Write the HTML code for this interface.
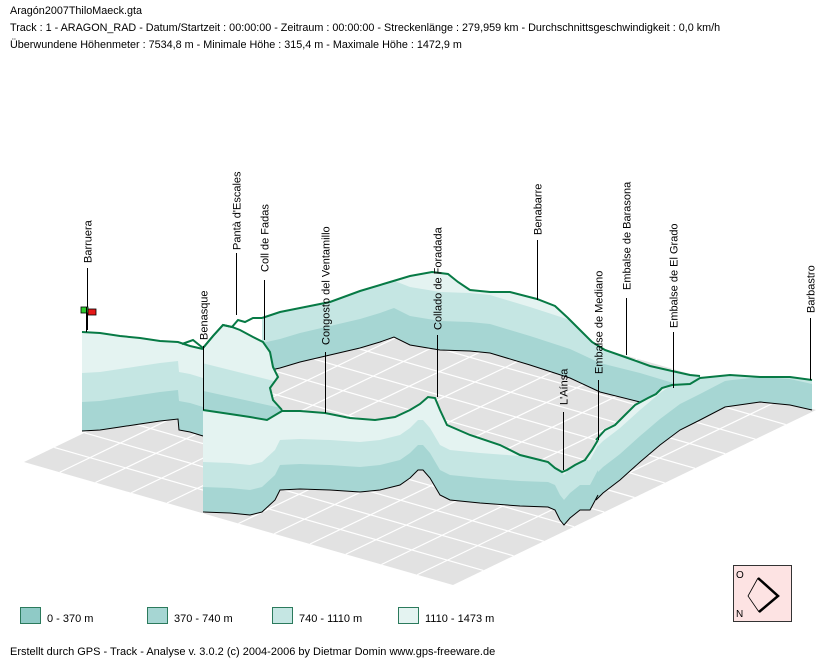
<!DOCTYPE html>
<html><head><meta charset="utf-8"><style>
body{margin:0;background:#fff;}
svg{display:block;font-family:"Liberation Sans",sans-serif;}
</style></head><body>
<svg id="s" width="832" height="664" viewBox="0 0 832 664" xmlns="http://www.w3.org/2000/svg">
<rect width="832" height="664" fill="#fff"/>
<g font-size="10.8" fill="#000">
<text x="10" y="14">Aragón2007ThiloMaeck.gta</text>
<text x="10" y="31">Track : 1 - ARAGON_RAD - Datum/Startzeit : 00:00:00 - Zeitraum : 00:00:00 - Streckenlänge : 279,959 km - Durchschnittsgeschwindigkeit : 0,0 km/h</text>
<text x="10" y="48">Überwundene Höhenmeter : 7534,8 m  -  Minimale Höhe : 315,4 m  -  Maximale Höhe : 1472,9 m</text>
</g>
<g id="floor"></g>
<g id="rib"></g>
<g id="lab" font-size="11"></g>
<g>
<rect x="81" y="307" width="7" height="6" fill="#2ecc2e" stroke="#000" stroke-width="0.8"/>
<rect x="88" y="309" width="8" height="6" fill="#e61919" stroke="#000" stroke-width="0.8"/>
<line x1="86.5" y1="307" x2="86.5" y2="332" stroke="#000"/>
</g>
<g font-size="11">
<rect x="20.5" y="607.5" width="20" height="16" fill="#8fcac6" stroke="#2b7a5c"/>
<text x="47" y="622">0 - 370 m</text>
<rect x="147.5" y="607.5" width="20" height="16" fill="#a6d6d3" stroke="#2b7a5c"/>
<text x="174" y="622">370 - 740 m</text>
<rect x="272.5" y="607.5" width="20" height="16" fill="#c5e6e3" stroke="#2b7a5c"/>
<text x="299" y="622">740 - 1110 m</text>
<rect x="398.5" y="607.5" width="20" height="16" fill="#e4f3f1" stroke="#2b7a5c"/>
<text x="425" y="622">1110 - 1473 m</text>
<text x="10" y="655">Erstellt durch  GPS - Track - Analyse   v. 3.0.2   (c) 2004-2006 by Dietmar Domin  www.gps-freeware.de</text>
</g>
<g>
<rect x="733.5" y="565.5" width="58" height="56" fill="#fde3e3" stroke="#333"/>
<text x="736" y="578" font-size="10">O</text>
<text x="736" y="617" font-size="10">N</text>
<polyline points="758,578 778,596 759,612" fill="none" stroke="#000" stroke-width="2.5"/>
<polyline points="758,578 748,596 759,612" fill="none" stroke="#000" stroke-width="0.8"/>
</g>
</svg>
<script>
var NS="http://www.w3.org/2000/svg";
function el(t,a,p){var e=document.createElementNS(NS,t);for(var k in a)e.setAttribute(k,a[k]);p.appendChild(e);return e;}
var F=document.getElementById('floor');
var L=[24,462],B=[453,585],R=[816,410],T=[387,287];
el('polygon',{points:[L,B,R,T].map(p=>p.join(',')).join(' '),fill:'#e2e2e2'},F);
var N=12;
for(var i=1;i<N;i++){var t=i/N;
 var a=[L[0]+(T[0]-L[0])*t,L[1]+(T[1]-L[1])*t],b=[B[0]+(R[0]-B[0])*t,B[1]+(R[1]-B[1])*t];
 el('line',{x1:a[0],y1:a[1],x2:b[0],y2:b[1],stroke:'#fff','stroke-width':1.2},F);
 a=[L[0]+(B[0]-L[0])*t,L[1]+(B[1]-L[1])*t];b=[T[0]+(R[0]-T[0])*t,T[1]+(R[1]-T[1])*t];
 el('line',{x1:a[0],y1:a[1],x2:b[0],y2:b[1],stroke:'#fff','stroke-width':1.2},F);}
var C=['#8fcac6','#a6d6d3','#c5e6e3','#e4f3f1'];
var G=document.getElementById('rib');
function interp(pts,x){for(var i=0;i<pts.length-1;i++){var a=pts[i],b=pts[i+1];if(x>=a[0]&&x<=b[0]){var t=(b[0]==a[0])?0:(x-a[0])/(b[0]-a[0]);return a[1]+(b[1]-a[1])*t;}}return x<pts[0][0]?pts[0][1]:pts[pts.length-1][1];}
function ribbon(top,bot,bh,noTop){
 var xs={};top.forEach(p=>xs[p[0]]=1);bot.forEach(p=>xs[p[0]]=1);
 var x0=Math.max(top[0][0],bot[0][0]),x1=Math.min(top[top.length-1][0],bot[bot.length-1][0]);
 var X=Object.keys(xs).map(Number).sort((a,b)=>a-b).filter(x=>x>=x0&&x<=x1);
 var rows=X.map(x=>[x,interp(top,x),interp(bot,x)]);
 var botRev=rows.slice().reverse().map(r=>r[0]+','+r[2]);
 for(var k=0;k<4;k++){
  var h=(3-k)*bh;
  var up=rows.map(r=>r[0]+','+Math.max(r[1],r[2]-h));
  if(k==0)up=rows.map(r=>r[0]+','+r[1]);
  el('polygon',{points:up.concat(botRev).join(' '),fill:C[3-k]},G);
 }
 el('polyline',{points:bot.map(p=>p.join(',')).join(' '),fill:'none',stroke:'#000','stroke-width':1},G);
 if(!noTop)el('polyline',{points:top.map(p=>p.join(',')).join(' '),fill:'none',stroke:'#077a45','stroke-width':2},G);
}
ribbon([[82,332],[100,333],[120,336],[140,338],[160,341],[178,342],[190,346],[203,349]],
       [[82,431],[100,430],[120,427],[140,424],[160,421],[178,419],[179,430],[190,432],[203,436]],29);
ribbon([[262,318],[280,312],[300,308],[330,302],[360,291],[390,282],[410,276],[432,272],[448,274],[458,282],[470,290],[490,292],[510,292],[537,299],[555,306],[568,318],[580,330],[592,342],[605,350],[625,357],[650,366],[672,371],[690,375],[700,376]],
       [[262,372],[280,368],[300,362],[330,355],[360,348],[380,342],[394,337],[410,345],[440,350],[470,351],[490,353],[530,365],[570,378],[600,392],[640,402],[660,408],[700,420]],29);
(function(){
 var poly="203,348 213,336 223,325 232,327 240,330 253,337 263,342 270,352 273,367 278,377 270,388 273,400 282,410 267,420 250,417 230,414 203,410";
 var d=el('defs',{},G);var cp=el('clipPath',{id:'lp'},d);el('polygon',{points:poly},cp);
 var g=el('g',{'clip-path':'url(#lp)'},G);
 el('rect',{x:190,y:300,width:100,height:130,fill:C[3]},g);
 el('polygon',{points:"190,360 290,385 290,430 190,430",fill:C[2]},g);
 el('polygon',{points:"190,388 290,410 290,430 190,430",fill:C[1]},g);
 el('polygon',{points:"190,412 290,430 290,440 190,440",fill:C[0]},g);
 el('polyline',{points:"182,344 193,340 203,348 213,336 223,325 232,327 238,320 245,322 253,318 262,318",fill:'none',stroke:'#077a45','stroke-width':2},G);
 el('polyline',{points:"203,348 213,336 223,325 232,327 240,330 253,337 263,342 270,352 273,367 278,377 270,388 273,400 282,410",fill:'none',stroke:'#077a45','stroke-width':2},G);
})();
ribbon([[596,440],[605,430],[615,425],[625,415],[635,405],[648,398],[656,394],[662,388],[672,385],[690,384],[700,378],[730,375],[760,377],[790,377],[812,380]],
       [[596,500],[603,493],[620,480],[640,462],[660,445],[680,430],[700,420],[725,407],[760,402],[790,405],[812,410]],26);
ribbon([[203,410],[230,414],[250,417],[267,420],[282,411],[300,411],[325,413],[350,418],[375,420],[395,417],[410,410],[420,404],[428,397],[435,398],[440,410],[447,425],[470,435],[500,445],[520,455],[540,460],[548,462],[555,468],[562,472],[567,470],[575,465],[585,460],[592,450],[598,440]],
       [[203,512],[230,513],[250,515],[262,512],[275,500],[280,490],[300,489],[330,490],[360,492],[380,490],[400,485],[410,478],[418,470],[423,470],[430,478],[440,495],[450,500],[480,503],[520,506],[548,507],[555,510],[560,520],[564,525],[570,518],[580,510],[590,510],[598,495]],25);
var LB=document.getElementById('lab');
[["Barruera",87,263,268,330],["Benasque",203,340,346,410],["Pantà d'Escales",236,250,253,315],["Coll de Fadas",264,272,280,340],
 ["Congosto del Ventamillo",325,345,352,413],["Collado de Foradada",437,330,335,397],["Benabarre",537,235,240,300],["L'Aínsa",563,405,412,470],
 ["Embalse de Mediano",598,374,380,440],["Embalse de Barasona",626,290,298,355],["Embalse de El Grado",673,328,332,388],["Barbastro",810,313,318,380]]
.forEach(function(l){
 el('line',{x1:l[1]+0.5,y1:l[3],x2:l[1]+0.5,y2:l[4],stroke:'#000','stroke-width':1},LB);
 var t=el('text',{x:0,y:0,transform:'translate('+(l[1]+4.5)+','+l[2]+') rotate(-90)'},LB);t.textContent=l[0];
});
</script>
</body></html>
